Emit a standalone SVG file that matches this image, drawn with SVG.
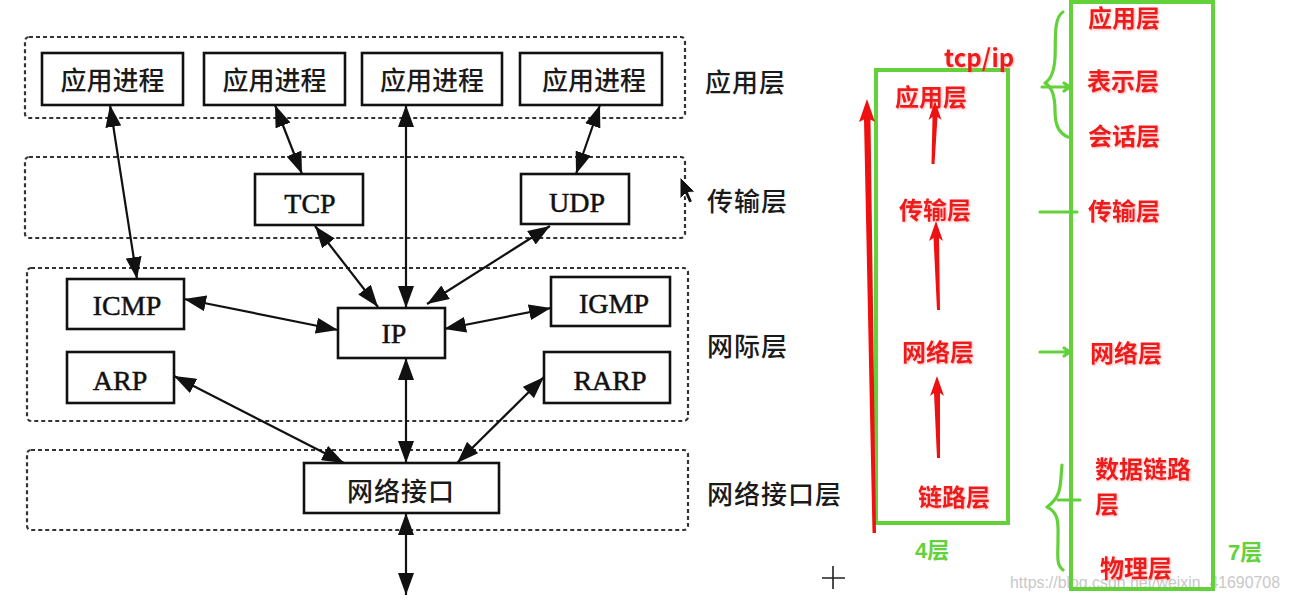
<svg xmlns="http://www.w3.org/2000/svg" width="1290" height="600" viewBox="0 0 1290 600">
<style>
.layer{fill:none;stroke:#333;stroke-width:2.2;stroke-dasharray:4 3}
.box{fill:#fff;stroke:#111;stroke-width:2.6}
.cjk{font-family:"Noto Sans CJK SC","Noto Sans",sans-serif;font-weight:500;fill:#1a1a1a}
.lat{font-family:"Liberation Serif","Times New Roman",serif;fill:#111;font-size:28px;stroke:#111;stroke-width:0.5}
.conn line{stroke:#111;stroke-width:2.2;marker-start:url(#ah);marker-end:url(#ah)}
.lbl{font-family:"Noto Sans CJK SC",sans-serif;font-weight:500;fill:#1a1a1a;font-size:26px;letter-spacing:1px}
.red{font-family:"Noto Sans CJK SC","Liberation Sans",sans-serif;font-weight:bold;fill:#ec1c1c;font-size:24px;filter:url(#glow)}
.grn{fill:none;stroke:#62d13a;stroke-width:4}
.brace{fill:none;stroke:#62d13a;stroke-width:3.2;stroke-linecap:round;stroke-linejoin:round}
.gtxt{font-family:"Liberation Sans","Noto Sans CJK SC",sans-serif;font-weight:bold;fill:#62d13a;font-size:22px}
.rarrow{fill:#ee1111}
</style>
<defs>
<marker id="ah" viewBox="0 0 22 16" refX="22" refY="8" markerWidth="22" markerHeight="16" markerUnits="userSpaceOnUse" orient="auto-start-reverse">
<path d="M0,0 L22,8 L0,16 z" fill="#111"/>
</marker>
<filter id="glow" x="-10%" y="-20%" width="120%" height="140%">
<feDropShadow dx="1" dy="1" stdDeviation="1" flood-color="#ff8080" flood-opacity="0.6"/>
</filter>
</defs>
<rect width="1290" height="600" fill="#fff"/>

<g id="layers">
<rect class="layer" x="25" y="37" width="660" height="81" rx="4"/>
<rect class="layer" x="25" y="157" width="660" height="81" rx="4"/>
<rect class="layer" x="27" y="268" width="661" height="153" rx="4"/>
<rect class="layer" x="27" y="450" width="661" height="80" rx="4"/>
</g>

<g id="layer-labels">
<text class="lbl" x="705" y="92">应用层</text>
<text class="lbl" x="707" y="211">传输层</text>
<text class="lbl" x="707" y="356">网际层</text>
<text class="lbl" x="707" y="504" letter-spacing="2">网络接口层</text>
</g>

<g id="connectors" class="conn">
<line x1="110" y1="105" x2="137" y2="279"/>
<line x1="275" y1="105" x2="302" y2="174"/>
<line x1="406" y1="105" x2="406" y2="308"/>
<line x1="600" y1="105" x2="576" y2="174"/>
<line x1="315" y1="226" x2="378" y2="307"/>
<line x1="550" y1="226" x2="427" y2="304"/>
<line x1="184" y1="299" x2="338" y2="330"/>
<line x1="551" y1="308" x2="444" y2="329"/>
<line x1="406" y1="358" x2="406" y2="463"/>
<line x1="174" y1="376" x2="344" y2="463"/>
<line x1="544" y1="377" x2="457" y2="463"/>
<line x1="406" y1="513" x2="406" y2="595"/>
</g>

<g id="app1"><rect class="box" x="42" y="53" width="141" height="52"/><text class="cjk" x="112.5" y="90" font-size="26" text-anchor="middle">应用进程</text></g>
<g id="app2"><rect class="box" x="204" y="53" width="141" height="52"/><text class="cjk" x="274.5" y="90" font-size="26" text-anchor="middle">应用进程</text></g>
<g id="app3"><rect class="box" x="362" y="53" width="140" height="52"/><text class="cjk" x="432" y="90" font-size="26" text-anchor="middle">应用进程</text></g>
<g id="app4"><rect class="box" x="520" y="53" width="142" height="52"/><text class="cjk" x="594" y="90" font-size="26" text-anchor="middle">应用进程</text></g>
<g id="tcp"><rect class="box" x="255" y="174" width="108" height="51"/><text class="lat" x="310" y="213" text-anchor="middle">TCP</text></g>
<g id="udp"><rect class="box" x="521" y="174" width="108" height="50"/><text class="lat" x="577" y="212" text-anchor="middle">UDP</text></g>
<g id="icmp"><rect class="box" x="67" y="279" width="117" height="50"/><text class="lat" x="127" y="315" text-anchor="middle">ICMP</text></g>
<g id="arp"><rect class="box" x="67" y="352" width="107" height="51"/><text class="lat" x="120" y="390" text-anchor="middle">ARP</text></g>
<g id="ip"><rect class="box" x="338" y="308" width="107" height="50"/><text class="lat" x="394" y="343" text-anchor="middle">IP</text></g>
<g id="igmp"><rect class="box" x="551" y="277" width="119" height="49"/><text class="lat" x="614" y="313" text-anchor="middle">IGMP</text></g>
<g id="rarp"><rect class="box" x="544" y="352" width="126" height="51"/><text class="lat" x="610" y="390" text-anchor="middle">RARP</text></g>
<g id="netif"><rect class="box" x="304" y="463" width="195" height="50"/><text class="cjk" x="401" y="501" font-size="26" text-anchor="middle" letter-spacing="1">网络接口</text></g>

<g id="cursor"><path d="M680,177 L680,199 L685,194 L689,203 L692.5,201.5 L688.5,192.5 L695,192 Z" fill="#111" stroke="#fff" stroke-width="1"/></g>
<g id="plus"><path d="M822,578 L845,578 M833,566 L833,589" stroke="#222" stroke-width="1.6" fill="none"/></g>

<text id="watermark" x="1010" y="588" font-family="Liberation Sans,sans-serif" font-size="16" fill="#c8c8c8" textLength="270" lengthAdjust="spacingAndGlyphs">https://blog.csdn.net/weixin_41690708</text>

<g id="tcpip-model">
<rect class="grn" x="876" y="70" width="132" height="453"/>
<text class="red" x="944" y="67" font-size="20" font-family="Liberation Sans,sans-serif">tcp/ip</text>
<text class="red" x="895" y="106">应用层</text>
<text class="red" x="899" y="219">传输层</text>
<text class="red" x="902" y="361">网络层</text>
<text class="red" x="918" y="506">链路层</text>
<text class="gtxt" x="915" y="558">4层</text>
</g>

<g id="red-arrows">
<path class="rarrow" d="M867,99 L875,122 L870.5,119.5 L876,533 L872.5,533 L864,119.5 L859,122 Z"/>
<path class="rarrow" d="M935,101 L941.5,120 L937.5,117 L934.5,164 L931.5,164 L932.5,117 L928.5,120 Z"/>
<path class="rarrow" d="M936,221 L943,241 L939,238 L940,310 L937,310 L933.5,238 L929,241 Z"/>
<path class="rarrow" d="M937,376 L944,396 L940,393 L940,458 L937,458 L934,393 L930,396 Z"/>
</g>

<g id="osi-model">
<rect class="grn" x="1071" y="2" width="142" height="587"/>
<text class="red" x="1088" y="27">应用层</text>
<text class="red" x="1087" y="90">表示层</text>
<text class="red" x="1088" y="145">会话层</text>
<text class="red" x="1088" y="220">传输层</text>
<text class="red" x="1090" y="362">网络层</text>
<text class="red" x="1095" y="478">数据链路</text>
<text class="red" x="1095" y="513">层</text>
<text class="red" x="1100" y="577">物理层</text>
<text class="gtxt" x="1228" y="560">7层</text>
</g>

<g id="braces">
<path class="brace" d="M1063,12 C1053,18 1056,42 1055,58 C1054,74 1050,80 1045,83 C1052,87 1055,96 1055,110 C1055,124 1058,133 1068,137"/>
<path class="brace" d="M1042,87 L1070,87 M1064,83 L1070,87 L1064,91"/>
<path class="brace" d="M1040,212 L1077,212"/>
<path class="brace" d="M1040,352 L1070,352 M1064,348 L1070,352 L1064,356"/>
<path class="brace" d="M1062,465 C1060,482 1063,496 1047,507 C1060,513 1058,526 1058,540 C1058,555 1056,565 1063,570"/>
<path class="brace" d="M1058,500 L1080,500"/>
</g>
</svg>
